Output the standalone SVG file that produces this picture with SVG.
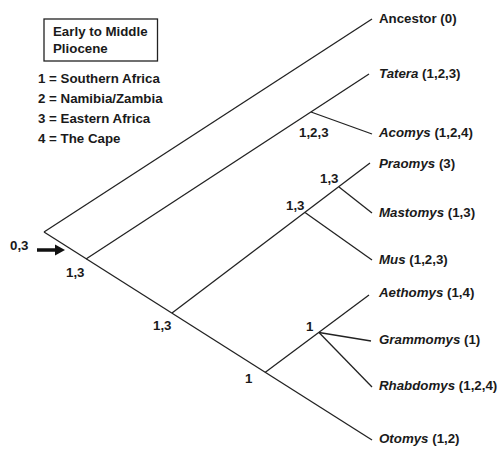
<svg xmlns="http://www.w3.org/2000/svg" width="499" height="449" viewBox="0 0 499 449">
<style>
text{font-family:"Liberation Sans",Arial,sans-serif;font-weight:bold;font-size:13.3px;fill:#1a1a1a}
.i{font-style:italic}
.n{font-style:normal}
#connectors line{stroke:#222;stroke-width:1.3;fill:none}
</style>
<rect width="499" height="449" fill="#fff"/>
<g id="legend">
<rect x="44" y="19" width="113.5" height="42" fill="none" stroke="#222" stroke-width="1.3"/>
<text x="53" y="35.5">Early to Middle</text>
<text x="53" y="52.5">Pliocene</text>
<text x="38" y="82.5">1 = Southern Africa</text>
<text x="38" y="102.5">2 = Namibia/Zambia</text>
<text x="38" y="122.5">3 = Eastern Africa</text>
<text x="38" y="142.5">4 = The Cape</text>
</g>
<g id="connectors">
<line x1="44" y1="232" x2="372" y2="19"/>
<line x1="44" y1="232" x2="372" y2="440"/>
<line x1="86" y1="259" x2="369" y2="74"/>
<line x1="311" y1="112" x2="372" y2="134"/>
<line x1="172" y1="313" x2="370" y2="163"/>
<line x1="305" y1="212.5" x2="372" y2="260"/>
<line x1="339" y1="187" x2="372" y2="213"/>
<line x1="265" y1="372.5" x2="369" y2="295"/>
<line x1="319" y1="332.5" x2="371" y2="341"/>
<line x1="319" y1="332.5" x2="372" y2="387"/>
</g>
<g id="arrow">
<line x1="37" y1="250" x2="57" y2="250" stroke="#111" stroke-width="3.5"/>
<polygon points="55,244.5 65,250 55,255.5" fill="#111"/>
</g>
<g id="node-ancestor"><text x="379" y="22.5">Ancestor (0)</text></g>
<g id="node-tatera"><text x="379" y="77.5"><tspan class="i">Tatera</tspan> (1,2,3)</text></g>
<g id="node-acomys"><text x="379" y="136.5"><tspan class="i">Acomys</tspan> (1,2,4)</text></g>
<g id="node-praomys"><text x="379" y="168"><tspan class="i">Praomys</tspan> (3)</text></g>
<g id="node-mastomys"><text x="379" y="216.5"><tspan class="i">Mastomys</tspan> (1,3)</text></g>
<g id="node-mus"><text x="379" y="264"><tspan class="i">Mus</tspan> (1,2,3)</text></g>
<g id="node-aethomys"><text x="379" y="296.5"><tspan class="i">Aethomys</tspan> (1,4)</text></g>
<g id="node-grammomys"><text x="379" y="344"><tspan class="i">Grammomys</tspan> (1)</text></g>
<g id="node-rhabdomys"><text x="379" y="390"><tspan class="i">Rhabdomys</tspan> (1,2,4)</text></g>
<g id="node-otomys"><text x="379" y="443"><tspan class="i">Otomys</tspan> (1,2)</text></g>
<g id="node-root"><text x="10" y="250">0,3</text></g>
<g id="node-n1"><text x="66" y="276.5">1,3</text></g>
<g id="node-n2"><text x="299" y="136.5">1,2,3</text></g>
<g id="node-n3"><text x="153" y="330">1,3</text></g>
<g id="node-n4"><text x="286" y="210">1,3</text></g>
<g id="node-n5"><text x="320" y="183">1,3</text></g>
<g id="node-n6"><text x="245" y="383">1</text></g>
<g id="node-n7"><text x="306" y="331">1</text></g>
</svg>
